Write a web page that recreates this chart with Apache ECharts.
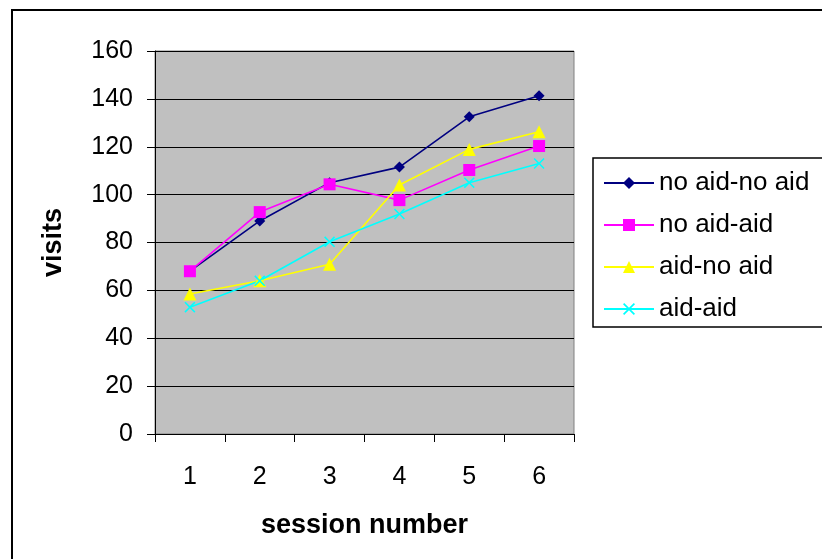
<!DOCTYPE html>
<html>
<head>
<meta charset="utf-8">
<script src="https://cdn.jsdelivr.net/npm/echarts@6/dist/echarts.min.js"></script>
<style>
  html, body { margin: 0; padding: 0; background: #fff; }
  #chart { width: 822px; height: 559px; }
</style>
</head>
<body>
<div id="chart"></div>
<script>
const sessions = ['1', '2', '3', '4', '5', '6']
const noAidNoAid = [68, 89, 105, 111.5, 132.5, 141.3]
const noAidAid = [68, 92.7, 104.3, 97.7, 110.3, 120.3]
const aidNoAid = [58.5, 64, 70.9, 104, 118.9, 126.3]
const aidAid = [53, 64, 80.3, 91.9, 105, 113]

const crossPath = 'path://M0,1L1,0L5,4L9,0L10,1L6,5L10,9L9,10L5,6L1,10L0,9L4,5Z'
const font = 'Liberation Sans, Arial, sans-serif'

function line(name, data, color, symbol, size) {
  return {
    name: name,
    type: 'line',
    data: data,
    symbol: symbol,
    symbolSize: size,
    lineStyle: { color: color, width: 1.6 },
    itemStyle: { color: color },
    animation: false
  }
}

const chart = echarts.init(document.getElementById('chart'))
chart.setOption({
  backgroundColor: '#fff',
  textStyle: { fontFamily: font },
  graphic: [
    { type: 'rect', shape: { x: 12, y: 10, width: 900, height: 600 },
      style: { fill: 'none', stroke: '#000', lineWidth: 2 } },
    { type: 'rect', shape: { x: 593, y: 158, width: 300, height: 169 },
      style: { fill: '#fff', stroke: '#000', lineWidth: 1.5 } }
  ],
  grid: {
    left: 155, top: 51, width: 419, height: 383,
    show: true, backgroundColor: '#c0c0c0', borderColor: '#808080', borderWidth: 1
  },
  legend: {
    orient: 'vertical',
    left: 598, top: 164,
    itemWidth: 50, itemHeight: 15, itemGap: 14,
    textStyle: { fontSize: 26, lineHeight: 28, color: '#000', fontFamily: font },
    data: ['no aid-no aid', 'no aid-aid', 'aid-no aid', 'aid-aid']
  },
  xAxis: {
    type: 'category',
    data: sessions,
    name: 'session number',
    nameLocation: 'middle',
    nameGap: 78,
    nameTextStyle: { fontSize: 27, fontWeight: 'bold', color: '#000' },
    axisLine: { lineStyle: { color: '#000', width: 1 } },
    axisTick: { show: true, length: 8, inside: false, lineStyle: { color: '#000' } },
    axisLabel: { fontSize: 25, color: '#000', margin: 31 }
  },
  yAxis: {
    type: 'value',
    min: 0, max: 160, interval: 20,
    name: 'visits',
    nameLocation: 'middle',
    nameGap: 88,
    nameTextStyle: { fontSize: 27, fontWeight: 'bold', color: '#000' },
    axisLine: { show: true, lineStyle: { color: '#000', width: 1 } },
    axisTick: { show: true, length: 8, lineStyle: { color: '#000' } },
    axisLabel: { fontSize: 25, color: '#000', margin: 22 },
    splitLine: { lineStyle: { color: '#000', width: 1 } }
  },
  series: [
    line('no aid-no aid', noAidNoAid, '#000080', 'diamond', 11),
    line('no aid-aid', noAidAid, '#ff00ff', 'rect', 12),
    line('aid-no aid', aidNoAid, '#ffff00', 'triangle', 13),
    line('aid-aid', aidAid, '#00ffff', crossPath, 11)
  ]
})
</script>
</body>
</html>
